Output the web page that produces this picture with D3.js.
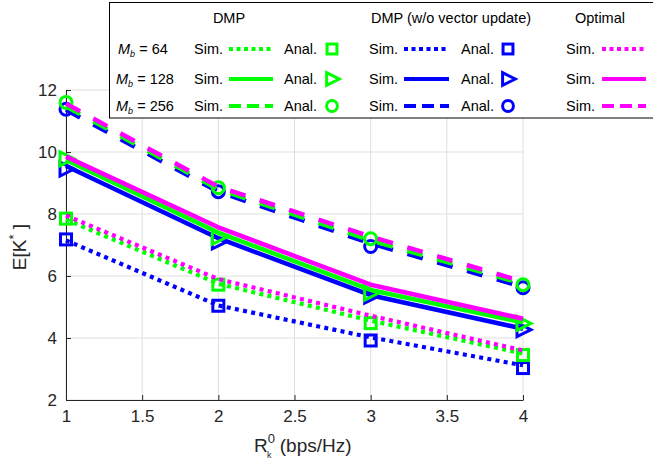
<!DOCTYPE html>
<html><head><meta charset="utf-8">
<script src="https://cdn.jsdelivr.net/npm/d3@7"></script>
<style>body{margin:0;background:#fff}svg{display:block;font-family:"Liberation Sans",Arial,sans-serif}</style>
</head><body><svg id="c" width="653" height="466"></svg>
<script>
// ---- data ----
const rates = [1, 2, 3, 4];
const xTicks = [1, 1.5, 2, 2.5, 3, 3.5, 4];
const yTicks = [2, 4, 6, 8, 10, 12];
const antennaLabels = ["64", "128", "256"];
const groupLabels = ["DMP", "DMP (w/o vector update)", "Optimal"];

const dmpSim64 = [7.82, 5.75, 4.56, 3.5];
const dmpSim128 = [9.74, 7.4, 5.55, 4.5];
const dmpSim256 = [11.47, 8.8, 7.15, 5.75];
const dmpAnal64 = [7.85, 5.72, 4.48, 3.45];
const dmpAnal128 = [9.78, 7.25, 5.45, 4.47];
const dmpAnal256 = [11.6, 8.85, 7.2, 5.72];

const woSim64 = [7.15, 5.05, 4.02, 3.12];
const woSim128 = [9.55, 7.22, 5.38, 4.3];
const woSim256 = [11.36, 8.72, 7.05, 5.65];
const woAnal64 = [7.18, 5.04, 3.92, 3.03];
const woAnal128 = [9.45, 7.1, 5.35, 4.27];
const woAnal256 = [11.38, 8.72, 6.95, 5.62];

const optSim64 = [7.95, 5.9, 4.72, 3.6];
const optSim128 = [9.85, 7.57, 5.72, 4.62];
const optSim256 = [11.56, 8.88, 7.27, 5.82];

// ---- layout ----
const svg = d3.select("#c");
const x = d3.scaleLinear().domain([1, 4]).range([66, 523]);
const y = d3.scaleLinear().domain([2, 12]).range([400, 90]);
const GREEN = "#00ff00", BLUE = "#0000ff", MAG = "#ff00ff";
const styles = [
  {dash: "4,4.3", lw: 4.2},
  {dash: null, lw: 4.5},
  {dash: "16,15", lw: 4.5}
];
const markerKinds = ["square", "tri", "circle"];

// grid
const grid = svg.append("g").attr("stroke", "#dfdfdf").attr("stroke-width", 1);
xTicks.forEach(t => grid.append("line").attr("x1", x(t)).attr("x2", x(t)).attr("y1", 90).attr("y2", 400));
yTicks.forEach(t => grid.append("line").attr("x1", 66).attr("x2", 523).attr("y1", y(t)).attr("y2", y(t)));

// axes
const xAxis = d3.axisBottom(x).tickValues(xTicks).tickSizeInner(-5).tickSizeOuter(0).tickPadding(10)
  .tickFormat(d3.format("~g"));
const yAxis = d3.axisLeft(y).tickValues(yTicks).tickSizeInner(-5).tickSizeOuter(0).tickPadding(9);
const gx = svg.append("g").attr("transform", "translate(0,400)").call(xAxis);
const gy = svg.append("g").attr("transform", "translate(66,0)").call(yAxis);
[gx, gy].forEach(g => {
  g.select(".domain").attr("stroke", "#262626").attr("stroke-width", 1);
  g.selectAll(".tick line").attr("stroke", "#262626");
  g.selectAll(".tick text").attr("fill", "#262626").attr("font-size", 17).attr("font-family", '"Liberation Sans",Arial,sans-serif');
});

// marker drawing
function marker(g, kind, cx, cy, color, s) {
  s = s || 1;
  if (kind === "square") {
    g.append("rect").attr("x", cx - 5.5 * s).attr("y", cy - 5.5 * s).attr("width", 11 * s).attr("height", 11 * s)
      .attr("fill", "none").attr("stroke", color).attr("stroke-width", 3);
  } else if (kind === "circle") {
    g.append("circle").attr("cx", cx).attr("cy", cy).attr("r", 6 * s)
      .attr("fill", "none").attr("stroke", color).attr("stroke-width", 3);
  } else {
    g.append("path").attr("d", `M${cx - 6 * s},${cy - 7 * s}L${cx + 8 * s},${cy}L${cx - 6 * s},${cy + 7 * s}Z`)
      .attr("fill", "none").attr("stroke", color).attr("stroke-width", 3).attr("stroke-linejoin", "miter");
  }
}

const line = d3.line().x((d, i) => x(rates[i])).y(d => y(d));
const plot = svg.append("g");
function drawSim(vals, color, k) {
  const p = plot.append("path").attr("d", line(vals)).attr("fill", "none").attr("stroke", color)
    .attr("stroke-width", styles[k].lw).attr("stroke-linejoin", "round");
  if (styles[k].dash) p.attr("stroke-dasharray", styles[k].dash);
}
function drawAnal(vals, color, k) {
  vals.forEach((v, i) => marker(plot, markerKinds[k], x(rates[i]), y(v), color));
}

const woSims = [woSim64, woSim128, woSim256];
const woAnals = [woAnal64, woAnal128, woAnal256];
const dmpSims = [dmpSim64, dmpSim128, dmpSim256];
const dmpAnals = [dmpAnal64, dmpAnal128, dmpAnal256];
const optSims = [optSim64, optSim128, optSim256];

woAnals.forEach((a, k) => drawAnal(a, BLUE, k));
woSims.forEach((s, k) => drawSim(s, BLUE, k));
dmpAnals.forEach((a, k) => drawAnal(a, GREEN, k));
dmpSims.forEach((s, k) => drawSim(s, GREEN, k));
optSims.forEach((s, k) => drawSim(s, MAG, k));

// axis labels
const yl = svg.append("text").attr("transform", "translate(26,247) rotate(-90)").attr("text-anchor", "middle")
  .attr("font-size", 19).attr("fill", "#262626");
yl.append("tspan").text("E[K");
yl.append("tspan").attr("dy", -8).attr("font-size", 13).text("*");
yl.append("tspan").attr("dy", 8).text(" ]");

const xl = svg.append("text").attr("x", 254).attr("y", 452).attr("font-size", 19).attr("fill", "#262626");
xl.append("tspan").text("R");
xl.append("tspan").attr("dy", -9).attr("font-size", 13).text("0");
xl.append("tspan").attr("dx", -8).attr("dy", 15).attr("font-size", 9).text("k");
xl.append("tspan").attr("dx", 3).attr("dy", -6).text(" (bps/Hz)");

// ---- legend ----
const lg = svg.append("g");
lg.append("rect").attr("x", 109.5).attr("y", 2.5).attr("width", 560).attr("height", 115.5)
  .attr("fill", "#fff").attr("stroke", "#000").attr("stroke-width", 1);
const headerX = [229, 451, 600];
groupLabels.forEach((t, i) => lg.append("text").attr("x", headerX[i]).attr("y", 23).attr("text-anchor", "middle")
  .attr("font-size", 14.5).attr("fill", "#000").text(t));
const rowY = [49, 79, 106];
const colors = [GREEN, BLUE, MAG];
const simX = [194, 369, 566];
const lineX = [[229, 273], [404, 449], [602, 646]];
const analX = [284, 461];
const markX = [332, 508];
const legendStyles = [{dash: "4,3.5"}, {dash: null}, {dash: "12,6"}];
antennaLabels.forEach((m, r) => {
  const ty = rowY[r] + 5;
  const t = lg.append("text").attr("x", r === 0 ? 118 : 116).attr("y", ty).attr("font-size", 14.5).attr("fill", "#000");
  t.append("tspan").attr("font-style", "italic").text("M");
  t.append("tspan").attr("font-style", "italic").attr("font-size", 9).attr("dy", 3).text("b");
  t.append("tspan").attr("dy", -3).text(" = " + m);
  for (let c = 0; c < 3; c++) {
    lg.append("text").attr("x", simX[c]).attr("y", ty).attr("font-size", 14.5).attr("fill", "#000").text("Sim.");
    const l = lg.append("line").attr("x1", lineX[c][0]).attr("x2", lineX[c][1]).attr("y1", rowY[r]).attr("y2", rowY[r])
      .attr("stroke", colors[c]).attr("stroke-width", 4);
    if (legendStyles[r].dash) l.attr("stroke-dasharray", legendStyles[r].dash);
    if (c < 2) {
      lg.append("text").attr("x", analX[c]).attr("y", ty).attr("font-size", 14.5).attr("fill", "#000").text("Anal.");
      marker(lg, markerKinds[r], markX[c], rowY[r], colors[c], 0.9);
    }
  }
});
</script></body></html>
